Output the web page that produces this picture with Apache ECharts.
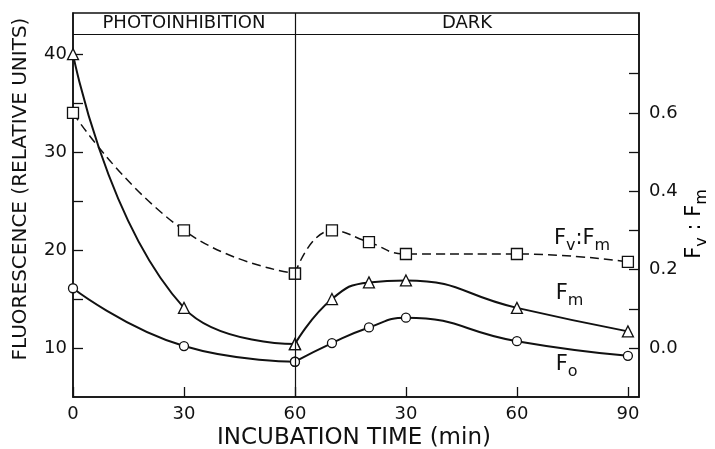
<!DOCTYPE html>
<html>
<head>
<meta charset="utf-8">
<script src="https://cdn.jsdelivr.net/npm/echarts@6/dist/echarts.min.js"></script>
<style>
html,body{margin:0;padding:0;background:#fff;}
#chart{width:715px;height:449px;}
</style>
</head>
<body>
<div id="chart"></div>
<script>
// ---- data ----
const photoTime = [0, 30, 60];
const darkTime = [0, 10, 20, 30, 60, 90];
const darkOffset = 60;
const fmPhoto = [40, 14.1, 10.4];
const fmDark = [10.4, 15.0, 16.7, 16.9, 14.1, 11.7];
const foPhoto = [16.1, 10.2, 8.6];
const foDark = [8.6, 10.5, 12.1, 13.1, 10.7, 9.2];
const ratioPhoto = [0.60, 0.30, 0.19];
const ratioDark = [0.19, 0.30, 0.27, 0.24, 0.24, 0.22];
const xTicks = [0, 30, 60, 90, 120, 150];
const leftTicks = [10, 15, 20, 25, 30, 35, 40];
const leftLabels = [10, 20, 30, 40];
const rightTicks = [0, 0.1, 0.2, 0.3, 0.4, 0.5, 0.6, 0.7];
const rightLabels = [0, 0.2, 0.4, 0.6];
const phaseNames = ['PHOTOINHIBITION', 'DARK'];

// axis ranges
const xMin = 0, xMax = 153;
const yMin = 5, yMax = 44.2, bandY = 42;
const rMin = (yMin - 10) / 40, rMax = (yMax - 10) / 40;

const photoX = photoTime;
const darkX = darkTime.map(t => t + darkOffset);
const pairs = (xs, ys) => xs.map((x, i) => [x, ys[i]]);

const FONT = 'DejaVu Sans';
const black = '#111';

const solidLine = { color: black, width: 2 };
const dashLine = { color: black, width: 1.5, type: [9, 5] };
const hollow = { color: '#fff', borderColor: black, borderWidth: 1.3 };

function lineSeries(name, data, symbol, size, dashed, yIdx) {
  return {
    type: 'line', name: name, data: data, smooth: 0.5,
    yAxisIndex: yIdx, symbol: symbol, symbolSize: size,
    lineStyle: dashed ? dashLine : solidLine,
    itemStyle: hollow, showSymbol: true, animation: false, z: 3
  };
}

const subRich = {
  f: { fontFamily: FONT, fontSize: 21, color: black, lineHeight: 30, verticalAlign: 'top', padding: [2, 0, 0, 0] },
  s: { fontFamily: FONT, fontSize: 16, color: black, lineHeight: 30, verticalAlign: 'bottom', padding: [0, 0, 2, 0] }
};

const inLabel = (coord, text) => ({
  coord: coord, symbol: 'circle', symbolSize: 0,
  label: { show: true, position: 'right', distance: 0, formatter: text, rich: subRich }
});

const series = [
  lineSeries('Fv:Fm photo', pairs(photoX, ratioPhoto), 'rect', 11, true, 1),
  lineSeries('Fv:Fm dark', pairs(darkX, ratioDark), 'rect', 11, true, 1),
  lineSeries('Fm photo', pairs(photoX, fmPhoto), 'triangle', 11, false, 0),
  lineSeries('Fm dark', pairs(darkX, fmDark), 'triangle', 11, false, 0),
  lineSeries('Fo photo', pairs(photoX, foPhoto), 'circle', 9, false, 0),
  lineSeries('Fo dark', pairs(darkX, foDark), 'circle', 9, false, 0)
];

// frame decorations: phase divider, band line, band labels, curve labels
series[4].markLine = {
  silent: true, symbol: ['none', 'none'], label: { show: false }, animation: false,
  lineStyle: { type: 'solid', color: black, width: 1.2 },
  data: [{ xAxis: darkOffset }, { yAxis: bandY }]
};
series[4].markArea = {
  silent: true, animation: false, itemStyle: { color: 'rgba(0,0,0,0)' },
  label: { show: true, position: 'inside', color: black, fontFamily: FONT, fontSize: 18 },
  data: [
    [{ name: phaseNames[0], xAxis: xMin, yAxis: bandY }, { xAxis: darkOffset, yAxis: yMax }],
    [{ name: phaseNames[1], xAxis: darkOffset, yAxis: bandY }, { xAxis: xMax, yAxis: yMax }]
  ]
};
series[5].markPoint = {
  silent: true, animation: false,
  data: [
    inLabel([130, 20.9], '{f|F}{s|v}{f|:F}{s|m}'),
    inLabel([130.5, 15.3], '{f|F}{s|m}'),
    inLabel([130.5, 8.1], '{f|F}{s|o}')
  ]
};

const chart = echarts.init(document.getElementById('chart'), null, { renderer: 'canvas' });
chart.setOption({
  backgroundColor: '#fff',
  animation: false,
  grid: { left: 73, right: 76, top: 13, bottom: 52, show: true, borderColor: black, borderWidth: 1.5, backgroundColor: 'transparent' },
  xAxis: {
    type: 'value', min: xMin, max: xMax,
    axisLine: { show: true, onZero: false, lineStyle: { color: black, width: 1.5 } },
    axisTick: { show: true, inside: true, length: 10, customValues: xTicks, lineStyle: { color: black, width: 1.3 } },
    axisLabel: {
      customValues: xTicks, color: black, fontFamily: FONT, fontSize: 18, margin: 8,
      formatter: v => String(v <= darkOffset ? v : v - darkOffset)
    },
    splitLine: { show: false }
  },
  yAxis: [
    {
      type: 'value', min: yMin, max: yMax, position: 'left',
      axisLine: { show: true, lineStyle: { color: black, width: 1.5 } },
      axisTick: { show: true, inside: true, length: 10, customValues: leftTicks, lineStyle: { color: black, width: 1.3 } },
      axisLabel: { customValues: leftLabels, color: black, fontFamily: FONT, fontSize: 18, margin: 6 },
      splitLine: { show: false }
    },
    {
      type: 'value', min: rMin, max: rMax, position: 'right',
      axisLine: { show: true, lineStyle: { color: black, width: 1.5 } },
      axisTick: { show: true, inside: true, length: 10, customValues: rightTicks, lineStyle: { color: black, width: 1.3 } },
      axisLabel: { customValues: rightLabels, color: black, fontFamily: FONT, fontSize: 18, margin: 10, formatter: v => v.toFixed(1) },
      splitLine: { show: false }
    }
  ],
  graphic: [
    {
      type: 'text', x: 21, y: 189, rotation: Math.PI / 2,
      style: { text: 'FLUORESCENCE (RELATIVE UNITS)', fill: black, font: '20px "' + FONT + '"', textAlign: 'center', textVerticalAlign: 'middle' }
    },
    {
      type: 'text', x: 354, y: 438,
      style: { text: 'INCUBATION TIME (min)', fill: black, font: '23px "' + FONT + '"', textAlign: 'center', textVerticalAlign: 'middle' }
    },
    {
      type: 'text', x: 697, y: 224, rotation: Math.PI / 2,
      style: { text: '{f|F}{s|v}{f| : F}{s|m}', rich: subRich, textAlign: 'center', textVerticalAlign: 'middle' }
    }
  ],
  series: series
});
</script>
</body>
</html>
